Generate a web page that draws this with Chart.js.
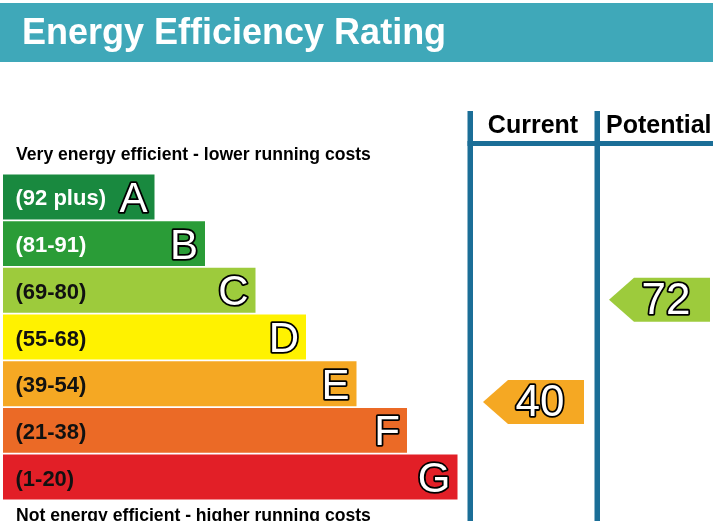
<!DOCTYPE html>
<html><head><meta charset="utf-8">
<script src="https://cdn.jsdelivr.net/npm/chart.js@4.4.0/dist/chart.umd.min.js"></script>
<style>html,body{margin:0;padding:0;background:#fff;overflow:hidden}canvas{display:block}</style>
</head><body>
<canvas id="c" width="713" height="521"></canvas>
<script>
// ---- data ----
const chartTitle = 'Energy Efficiency Rating';
const topNote = 'Very energy efficient - lower running costs';
const bottomNote = 'Not energy efficient - higher running costs';
const bandLetters = ['A','B','C','D','E','F','G'];
const bandRangeLabels = ['(92 plus)','(81-91)','(69-80)','(55-68)','(39-54)','(21-38)','(1-20)'];
const bandLow = [92,81,69,55,39,21,1];
const bandHigh = [100,91,80,68,54,38,20];
const barLengths = [30,40,50,60,70,80,90];
const bandColors = ['#19893f','#2a9c37','#9dcb3c','#fff200','#f5a823','#eb6a26','#e21f27'];
const rangeTextColors = ['#ffffff','#ffffff','#111111','#111111','#111111','#111111','#111111'];
const columnTitles = ['Current','Potential'];
const scores = [40, 72];

const FONT = "'Liberation Sans', Arial, Helvetica, sans-serif";
const LINE = '#1b6e97';

function bandOf(score){
  for (let i=0;i<bandLow.length;i++){ if (score>=bandLow[i] && score<=bandHigh[i]) return i; }
  return bandLow.length-1;
}

function outlinedText(ctx, txt, x, y){
  ctx.lineJoin = 'round';
  ctx.lineWidth = 3.6; ctx.strokeStyle = '#000';
  ctx.strokeText(txt, x, y);
  ctx.fillStyle = '#fff';
  ctx.fillText(txt, x, y);
}

const frame = {
  id:'frame',
  beforeDraw(chart){
    const ctx = chart.ctx, W = chart.width, H = chart.height;
    ctx.save();
    ctx.fillStyle = '#ffffff'; ctx.fillRect(0,0,W,H);
    // header band
    ctx.fillStyle = '#3fa8b9'; ctx.fillRect(0,3,W,59);
    ctx.fillStyle = '#ffffff'; ctx.font = 'bold 36px ' + FONT;
    ctx.textAlign = 'left'; ctx.textBaseline = 'alphabetic';
    ctx.fillText(chartTitle, 22, 44);
    // notes
    ctx.fillStyle = '#000000'; ctx.font = 'bold 17.6px ' + FONT;
    ctx.fillText(topNote, 16, 160);
    ctx.fillText(bottomNote, 16, 521);
    // column headers
    ctx.font = 'bold 25px ' + FONT;
    ctx.textAlign = 'center';
    ctx.fillText(columnTitles[0], 533, 133);
    ctx.textAlign = 'left';
    ctx.fillText(columnTitles[1], 606, 133);
    // column lines
    ctx.fillStyle = LINE;
    ctx.fillRect(467.5, 111, 5.5, H-111);
    ctx.fillRect(594.5, 111, 5.5, H-111);
    ctx.fillRect(467.5, 141, W-467.5, 5);
    ctx.restore();
  },
  afterDatasetsDraw(chart){
    const ctx = chart.ctx;
    const meta = chart.getDatasetMeta(0);
    ctx.save();
    ctx.textBaseline = 'alphabetic';
    meta.data.forEach((bar, i) => {
      const cy = bar.y;
      // range label
      ctx.font = 'bold 22px ' + FONT;
      ctx.textAlign = 'left';
      ctx.fillStyle = rangeTextColors[i];
      ctx.fillText(bandRangeLabels[i], 15.5, cy + 8.5);
      // letter
      ctx.font = '42px ' + FONT;
      ctx.textAlign = 'right';
      outlinedText(ctx, bandLetters[i], bar.x - 7, cy + 15);
    });
    // score arrows
    const arrowLeft = [483, 609];
    const arrowW = 101, tip = 25;
    scores.forEach((s, k) => {
      const b = bandOf(s);
      const bar = meta.data[b];
      const top = bar.y - bar.height/2;
      const cy = top + (bandHigh[b] - s + 0.5) / (bandHigh[b] - bandLow[b] + 1) * bar.height;
      const hh = 22;
      const L = arrowLeft[k], R = L + arrowW;
      ctx.beginPath();
      ctx.moveTo(L, cy);
      ctx.lineTo(L + tip, cy - hh);
      ctx.lineTo(R, cy - hh);
      ctx.lineTo(R, cy + hh);
      ctx.lineTo(L + tip, cy + hh);
      ctx.closePath();
      ctx.fillStyle = bandColors[b];
      ctx.fill();
      ctx.font = '44px ' + FONT;
      ctx.textAlign = 'center';
      outlinedText(ctx, String(s), L + 57, cy + 14);
    });
    ctx.restore();
  }
};

new Chart(document.getElementById('c'), {
  type: 'bar',
  data: {
    labels: bandLetters,
    datasets: [{
      data: barLengths,
      backgroundColor: bandColors,
      borderWidth: 0,
      barPercentage: 0.963,
      categoryPercentage: 1.0
    }]
  },
  options: {
    indexAxis: 'y',
    responsive: false,
    animation: false,
    devicePixelRatio: 1,
    layout: { padding: { left: 3, right: 3, top: 173.6, bottom: 20.6 } },
    scales: {
      x: { type: 'linear', min: 0, max: 140, display: false },
      y: { type: 'category', display: false }
    },
    plugins: { legend: { display: false }, tooltip: { enabled: false }, title: { display: false } }
  },
  plugins: [frame]
});
</script>
</body></html>
